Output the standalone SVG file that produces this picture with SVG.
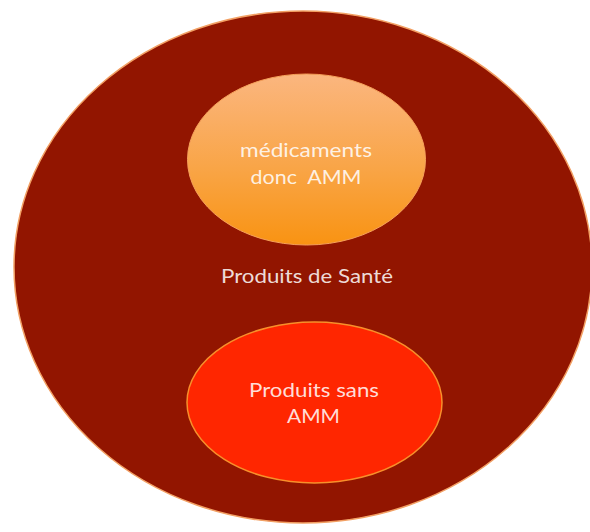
<svg xmlns="http://www.w3.org/2000/svg" width="590" height="532" viewBox="0 0 590 532">
  <defs>
    <linearGradient id="gOrange" x1="0" y1="0" x2="0" y2="1">
      <stop offset="0" stop-color="#FBB67F"/>
      <stop offset="0.55" stop-color="#F9A547"/>
      <stop offset="1" stop-color="#F99312"/>
    </linearGradient>
    <filter id="soft" x="-5%" y="-5%" width="110%" height="110%">
      <feGaussianBlur stdDeviation="0.6"/>
    </filter>
  </defs>
  <style>
    .lbl { font-family: "Lato", "Liberation Sans", sans-serif; font-size: 20px; fill: #FFFFFF; fill-opacity: 0.86; text-anchor: middle; white-space: pre; }
  </style>
  <rect width="590" height="532" fill="#FFFFFF"/>
  <g id="connectors"/>
  <g id="produits-sante">
    <ellipse cx="303" cy="267" rx="289" ry="256" fill="#921500" stroke="#F2A064" stroke-width="1.5"/>
    <text class="lbl" x="307" y="283" textLength="172" lengthAdjust="spacingAndGlyphs">Produits de Santé</text>
  </g>
  <g id="medicaments">
    <ellipse cx="306.5" cy="159.5" rx="119" ry="85.5" fill="url(#gOrange)" stroke="#F6A15A" stroke-width="1"/>
    <text class="lbl" x="306" y="157" textLength="132" lengthAdjust="spacingAndGlyphs">médicaments</text>
    <text class="lbl" x="306" y="184" textLength="111" lengthAdjust="spacingAndGlyphs">donc  AMM</text>
  </g>
  <g id="produits-sans-amm">
    <ellipse cx="314.5" cy="402.5" rx="127.5" ry="80.5" fill="#FF2600" stroke="#F7902A" stroke-width="1.5"/>
    <text class="lbl" x="314" y="397" textLength="130" lengthAdjust="spacingAndGlyphs">Produits sans</text>
    <text class="lbl" x="313.5" y="423" textLength="53" lengthAdjust="spacingAndGlyphs">AMM</text>
  </g>
</svg>
